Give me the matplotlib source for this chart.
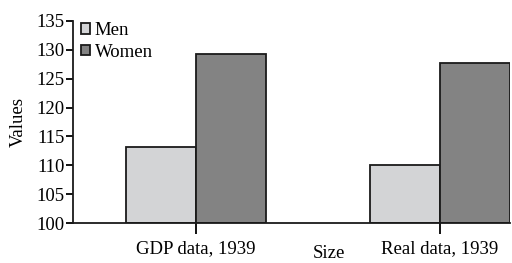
import numpy as np
import matplotlib.pyplot as plt

categories = ['GDP data, 1939', 'Real data, 1939']
men = [113.2, 110.1]
women = [129.3, 127.7]
yticks = [100, 105, 110, 115, 120, 125, 130, 135]

plt.rcParams['font.family'] = ['Liberation Serif', 'DejaVu Serif']
fs = 13.5

fig = plt.figure(figsize=(5.12, 2.63), dpi=100)
ax = fig.add_axes([73 / 512, 1 - 223.3 / 263, (510 - 73) / 512, (223.3 - 20.7) / 263])

x = np.arange(len(categories))
w = 0.287
ax.bar(x - w / 2, np.array(men) - 100, w, bottom=100, color='#d3d4d6',
       edgecolor='#1a1a1a', linewidth=1.3, label='Men')
ax.bar(x + w / 2, np.array(women) - 100, w, bottom=100, color='#838383',
       edgecolor='#1a1a1a', linewidth=1.3, label='Women')

ax.set_xlim(-0.504, 1 + w)
ax.set_ylim(100, 135)
ax.set_yticks(yticks)
ax.set_xticks(x)
ax.set_xticklabels(categories, fontsize=fs)
ax.tick_params(axis='y', labelsize=fs, length=5, width=1.3, pad=1)
ax.tick_params(axis='x', length=8, width=1.3, pad=4)

for s in ['top', 'right']:
    ax.spines[s].set_visible(False)
for s in ['left', 'bottom']:
    ax.spines[s].set_linewidth(1.3)
    ax.spines[s].set_color('#1a1a1a')

ax.set_ylabel('Values', fontsize=fs)
ax.yaxis.set_label_coords(-0.105, 0.5)
ax.set_xlabel('Size', fontsize=fs)
ax.xaxis.set_label_coords(0.586, -0.105)

ax.legend(loc='upper left', bbox_to_anchor=(0.0, 1.03), frameon=False, fontsize=fs,
          handlelength=0.5, handleheight=0.5, handletextpad=0.25, labelspacing=0.25,
          borderaxespad=0)

fig.savefig('out.png', dpi=100)
